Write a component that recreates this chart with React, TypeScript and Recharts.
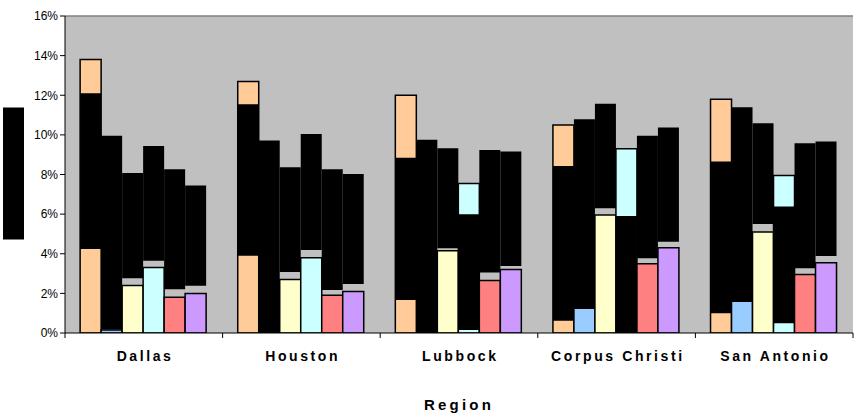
import React from 'react';
import { BarChart, Bar, XAxis, YAxis, CartesianGrid, ReferenceLine } from 'recharts';

const regions = ['Dallas', 'Houston', 'Lubbock', 'Corpus Christi', 'San Antonio'];

// share of each group per region, in percent
const peach = [13.8, 12.7, 12.0, 10.5, 11.8];
const blue = [0.15, 0, 0, 1.25, 1.6];
const yellow = [2.4, 2.7, 4.15, 5.95, 5.1];
const cyan = [3.3, 3.8, 7.55, 9.3, 7.95];
const salmon = [1.8, 1.9, 2.65, 3.5, 2.95];
const lilac = [2.0, 2.1, 3.2, 4.3, 3.55];

// blacked-out vertical value tags: lower and upper end of each tag, in percent
const tagLow = [
  [4.24, 3.9, 1.67, 0.62, 1.0],
  [0.18, -0.15, 0.0, 1.25, 1.58],
  [2.76, 3.08, 4.28, 6.3, 5.5],
  [3.65, 4.19, 0.15, 0.0, 0.49],
  [2.21, 2.17, 3.05, 3.77, 3.27],
  [2.39, 2.47, 3.38, 4.61, 3.89],
];
const tagHigh = [
  [12.1, 11.55, 8.85, 8.43, 8.65],
  [9.95, 9.71, 9.75, 10.79, 11.4],
  [8.07, 8.37, 9.33, 11.57, 10.59],
  [9.44, 10.05, 6.0, 5.91, 6.38],
  [8.27, 8.27, 9.24, 9.95, 9.58],
  [7.44, 8.03, 9.16, 10.37, 9.66],
];

const yTicks = [0, 2, 4, 6, 8, 10, 12, 14, 16];

const seriesKeys = ['peach', 'blue', 'yellow', 'cyan', 'salmon', 'lilac'];
const seriesColors = ['#FFCC99', '#99CCFF', '#FFFFCC', '#CCFFFF', '#FF8080', '#CC99FF'];
const seriesValues = [peach, blue, yellow, cyan, salmon, lilac];

const data = regions.map((region, i) => {
  const row: Record<string, any> = { region };
  seriesKeys.forEach((key, s) => {
    row[key] = seriesValues[s][i];
    row[`tag_${key}`] = [tagLow[s][i], tagHigh[s][i]];
  });
  return row;
});

const WIDTH = 855;
const HEIGHT = 414;
const PLOT_LEFT = 65;
const PLOT_RIGHT = 853;
const BAND = (PLOT_RIGHT - PLOT_LEFT) / regions.length;
const FONT = '"Liberation Sans", Arial, sans-serif';

// category label centred in its band, tick marks on the band edges
const RegionTick = (props: any) => {
  const { x, y, payload } = props;
  const half = BAND / 2;
  const isLast = payload.value === regions[regions.length - 1];
  return (
    <g>
      <line x1={x - half} x2={x - half} y1={y - 5} y2={y} stroke="#000" />
      {isLast && <line x1={x + half} x2={x + half} y1={y - 5} y2={y} stroke="#000" />}
      <text
        x={x + 1.3}
        y={y + 18}
        textAnchor="middle"
        dominantBaseline="central"
        fontFamily={FONT}
        fontSize={14}
        fontWeight="bold"
        letterSpacing={2.6}
        fill="#000"
      >
        {payload.value}
      </text>
    </g>
  );
};

// y axis title is blacked out
const YTitle = (props: any) => {
  const vb = props.viewBox || {};
  const cy = (vb.y ?? 16) + (vb.height ?? 317) / 2;
  return <rect x={3} y={cy - 67} width={21} height={132} fill="#000" />;
};

export default function App() {
  return (
    <div style={{ width: WIDTH, height: HEIGHT }}>
      <style>{'body{margin:0}'}</style>
      <BarChart
        width={WIDTH}
        height={HEIGHT}
        data={data}
        margin={{ top: 16, right: WIDTH - PLOT_RIGHT, bottom: 0, left: 0 }}
        barCategoryGap="9.6%"
        barGap={0}
      >
        <CartesianGrid fill="#C0C0C0" horizontal={false} vertical={false} />
        <XAxis
          dataKey="region"
          height={81}
          tickLine={false}
          tickSize={5}
          tickMargin={0}
          axisLine={{ stroke: '#000' }}
          tick={<RegionTick />}
          interval={0}
          label={{
            value: 'Region',
            position: 'insideBottom',
            offset: 4,
            style: { fontFamily: FONT, fontSize: 15, fontWeight: 'bold', letterSpacing: 3.2, fill: '#000' },
          }}
        />
        <XAxis xAxisId="tag" dataKey="region" hide />
        <YAxis
          width={PLOT_LEFT}
          domain={[0, 16]}
          ticks={yTicks}
          allowDataOverflow
          tickFormatter={(v: number) => `${v}%`}
          tick={{ fontFamily: FONT, fontSize: 12, fill: '#000' }}
          tickSize={5}
          axisLine={{ stroke: '#000' }}
          tickLine={{ stroke: '#000' }}
          label={{ content: <YTitle /> }}
        />
        <ReferenceLine y={16} stroke="#808080" strokeWidth={1.5} />
        {seriesKeys.map((key, s) => (
          <Bar
            key={key}
            dataKey={key}
            fill={seriesColors[s]}
            stroke="#000"
            strokeWidth={1.5}
            isAnimationActive={false}
          />
        ))}
        {seriesKeys.map((key) => (
          <Bar
            key={`tag_${key}`}
            xAxisId="tag"
            dataKey={`tag_${key}`}
            fill="#000"
            isAnimationActive={false}
          />
        ))}
      </BarChart>
    </div>
  );
}
